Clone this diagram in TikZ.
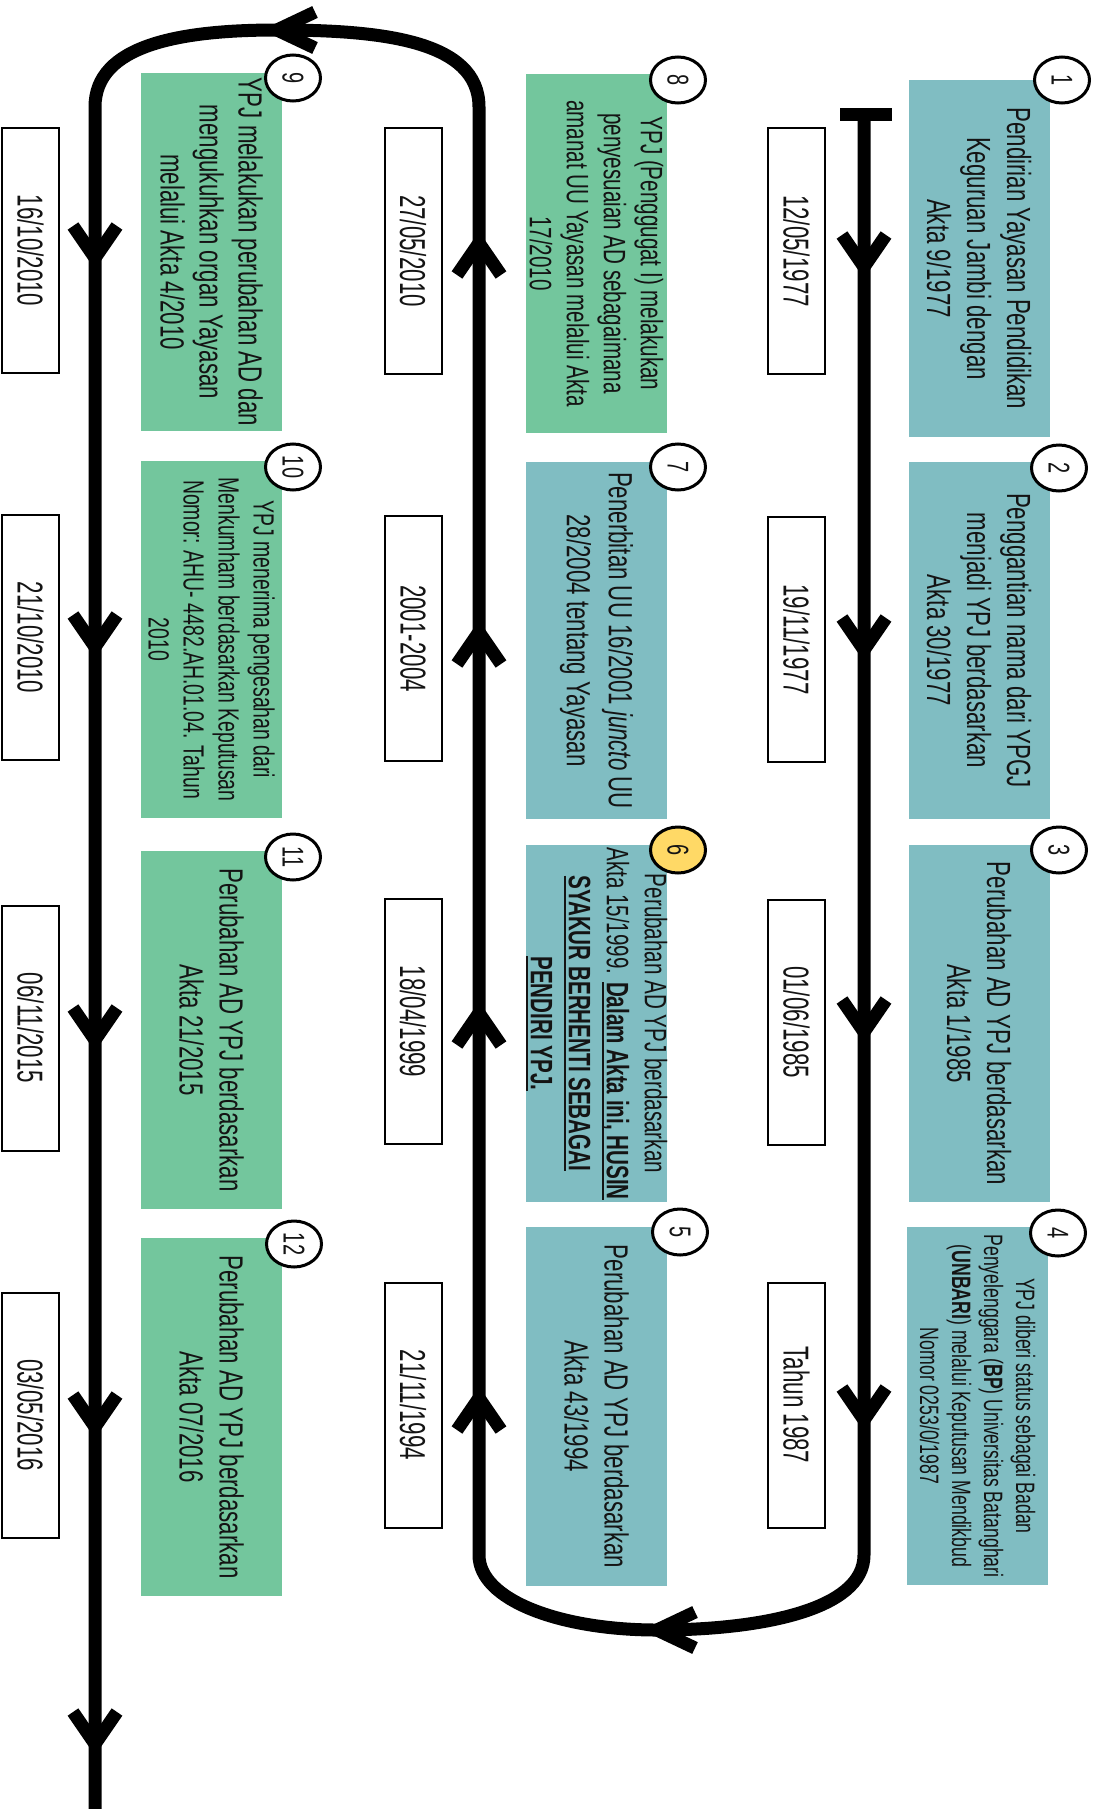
\documentclass[tikz,border=0pt]{standalone}
\usepackage{fontspec}
\setmainfont[FakeStretch=0.665]{Liberation Sans}
\newfontfamily\datefont[FakeStretch=0.62]{Liberation Sans}
\newsavebox\ulbox
\newcommand\myul[1]{\sbox\ulbox{#1}\rlap{\rule[-5pt]{\wd\ulbox}{2pt}}\usebox\ulbox}
\usetikzlibrary{shapes.geometric}
\definecolor{tealbox}{RGB}{128,189,194}
\definecolor{greenbox}{RGB}{115,198,157}
\definecolor{yellowc}{RGB}{255,217,102}
\definecolor{ink}{RGB}{20,20,20}
\begin{document}
\begin{tikzpicture}[x=1pt,y=-1pt,
  flow/.style={line width=13pt, draw=black},
  chevstyle/.style={line width=13pt, draw=black, line join=miter, miter limit=10},
  chevv/.pic={\draw[chevstyle] (-22,-32) -- (0,0) -- (22,-32);},
  chevh/.pic={\draw[chevstyle] (38,-18) -- (0,0) -- (38,18);},
  evt/.style={rotate=-90, inner sep=0pt, align=center, text=ink, minimum width=357pt, minimum height=141pt, font=\fontsize{33.5}{40}\selectfont},
  tealev/.style={evt, fill=tealbox},
  greenev/.style={evt, fill=greenbox},
  datebox/.style={rotate=-90, draw=black, line width=2pt, fill=white, inner sep=0pt, minimum width=245pt, minimum height=57pt, text=ink, font=\datefont\fontsize{36}{40}\selectfont},
  num/.style={ellipse, draw=black, line width=3pt, fill=white, rotate=-90, inner sep=0pt, minimum width=46pt, minimum height=55pt, text=ink, font=\fontsize{30}{30}\selectfont}
]
\useasboundingbox (0,0) rectangle (1101,1809);

% main timeline path
\coordinate (s) at (864,115);
\coordinate (barL) at (840,115);
\coordinate (barR) at (892,115);
\coordinate (c1b) at (864,1555);
\coordinate (bm) at (657,1630);
\coordinate (c2b) at (479,1555);
\coordinate (c2t) at (479,107);
\coordinate (tm) at (277,30);
\coordinate (c3t) at (95,107);
\coordinate (e) at (95,1812);
\draw[flow] (s) -- (c1b) .. controls (864,1610) and (760,1630) .. (bm)
  .. controls (560,1630) and (479,1600) .. (c2b) -- (c2t)
  .. controls (479,40) and (380,30) .. (tm)
  .. controls (180,30) and (95,45) .. (c3t) -- (e);
\draw[line width=13pt] (barL) -- (barR);

% arrowheads
\foreach \y in {267,650,1032,1420} \pic at (864,\y) {chevv};
\foreach \y in {243,632,1013,1398} \pic[rotate=180] at (479,\y) {chevv};
\foreach \y in {258,647,1040,1427,1744} \pic at (95,\y) {chevv};
\pic at (bm) {chevh};
\pic at (tm) {chevh};

% event boxes column 1
\node[tealev] (b1) at (979,258.5) {Pendirian Yayasan Pendidikan\\Keguruan Jambi dengan\\Akta 9/1977};
\node[tealev] (b2) at (979,640.5) {Penggantian nama dari YPGJ\\menjadi YPJ berdasarkan\\Akta 30/1977};
\node[tealev] (b3) at (979,1023.5) {Perubahan AD YPJ berdasarkan\\Akta 1/1985};
\node[tealev, minimum width=358pt, font=\fontsize{26.6}{32}\selectfont] (b4) at (977.5,1406) {YPJ diberi status sebagai Badan\\Penyelenggara (\textbf{BP}) Universitas Batanghari\\(\textbf{UNBARI}) melalui Keputusan Mendikbud\\Nomor 0253/0/1987};

% column 2
\node[tealev, minimum width=359pt] (b5) at (596.5,1406.5) {Perubahan AD YPJ berdasarkan\\Akta 43/1994};
\node[tealev, font=\fontsize{31}{38}\selectfont] (b6) at (596.5,1023.5) {Perubahan AD YPJ berdasarkan\\Akta 15/1999. \myul{\textbf{Dalam Akta ini, HUSIN}}\\\myul{\textbf{SYAKUR BERHENTI SEBAGAI}}\\\myul{\textbf{PENDIRI YPJ.}}};
\node[tealev, font=\fontsize{33.5}{42}\selectfont] (b7) at (596.5,640.5) {Penerbitan UU 16/2001 \textit{juncto} UU\\28/2004 tentang Yayasan};
\node[greenev, minimum width=359pt, font=\fontsize{31}{37}\selectfont] (b8) at (596.5,253.5) {YPJ (Penggugat I) melakukan\\penyesuaian AD sebagaimana\\amanat UU Yayasan melalui Akta\\17/2010};

% column 3
\node[greenev, minimum width=358pt, font=\fontsize{33.5}{39}\selectfont] (b9) at (211.5,252) {YPJ melakukan perubahan AD dan\\mengukuhkan organ Yayasan\\melalui Akta 4/2010};
\node[greenev, font=\fontsize{29.2}{35}\selectfont] (b10) at (211.5,639.5) {YPJ menerima pengesahan dari\\Menkumham berdasarkan Keputusan\\Nomor: AHU- 4482.AH.01.04. Tahun\\2010};
\node[greenev, minimum width=358pt] (b11) at (211.5,1030) {Perubahan AD YPJ berdasarkan\\Akta 21/2015};
\node[greenev, minimum width=358pt] (b12) at (211.5,1417) {Perubahan AD YPJ berdasarkan\\Akta 07/2016};

% date boxes
\node[datebox] (d1) at (796.5,251) {12/05/1977};
\node[datebox] (d2) at (796.5,639.5) {19/11/1977};
\node[datebox] (d3) at (796.5,1022) {01/06/1985};
\node[datebox] (d4) at (796.5,1405) {Tahun 1987};
\node[datebox] (d8) at (413,251) {27/05/2010};
\node[datebox] (d7) at (413,638.5) {2001-2004};
\node[datebox] (d6) at (413,1021.5) {18/04/1999};
\node[datebox] (d5) at (413,1405) {21/11/1994};
\node[datebox] (d9) at (30.5,250.5) {16/10/2010};
\node[datebox] (d10) at (30.5,637.5) {21/10/2010};
\node[datebox] (d11) at (30.5,1028) {06/11/2015};
\node[datebox] (d12) at (30.5,1415) {03/05/2016};

% number markers
\node[num] (n1) at (1062,80) {1};
\node[num] (n2) at (1059,468) {2};
\node[num] (n3) at (1059,850) {3};
\node[num] (n4) at (1058,1233) {4};
\node[num] (n5) at (680,1232) {5};
\node[num, fill=yellowc] (n6) at (678,850) {6};
\node[num] (n7) at (678,467) {7};
\node[num] (n8) at (678,80) {8};
\node[num] (n9) at (293,78) {9};
\node[num] (n10) at (293,467) {10};
\node[num] (n11) at (293,857) {11};
\node[num] (n12) at (294,1244) {12};
\end{tikzpicture}
\end{document}
